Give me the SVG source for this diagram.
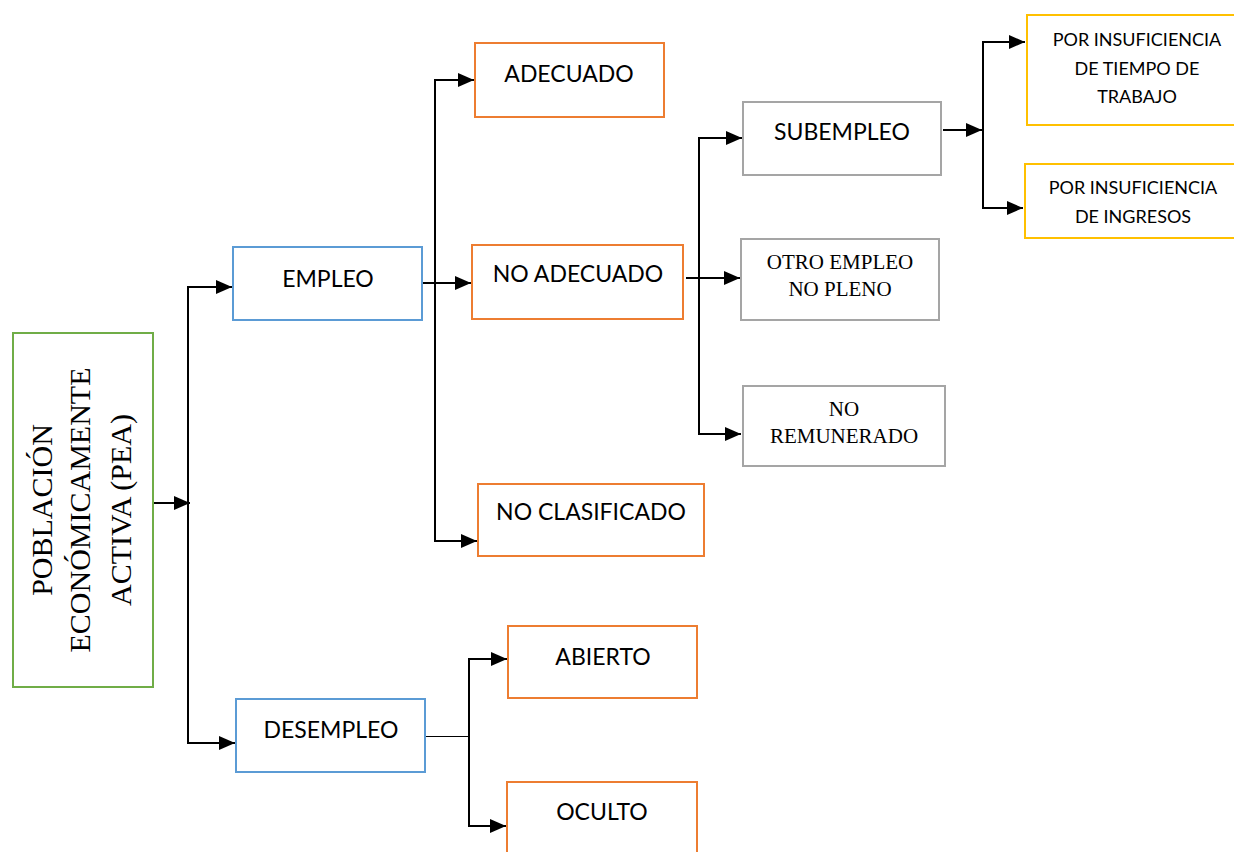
<svg xmlns="http://www.w3.org/2000/svg" width="1234" height="852" viewBox="0 0 1234 852">
<style>
.box{fill:#fff;stroke-width:2}
.g{stroke:#70AD47}.b{stroke:#5B9BD5}.o{stroke:#ED7D31}.gr{stroke:#A5A5A5}.y{stroke:#FFC000}
.c{font-family:Lato,"Open Sans","Liberation Sans",sans-serif;fill:#000;text-anchor:middle}
.t{font-family:"Liberation Serif","Times New Roman",serif;fill:#000;text-anchor:middle}
.ln{fill:none;stroke:#000;stroke-width:2}
</style>
<defs>
<marker id="ah" markerUnits="userSpaceOnUse" markerWidth="16" markerHeight="14" refX="16" refY="7" orient="auto">
<path d="M0,0 L16,7 L0,14 z" fill="#000"/>
</marker>
</defs>
<g id="connectors">
<line class="ln" x1="153" y1="503" x2="190" y2="503" marker-end="url(#ah)"/>
<line class="ln" x1="188" y1="287" x2="188" y2="743"/>
<line class="ln" x1="187" y1="287" x2="232" y2="287" marker-end="url(#ah)"/>
<line class="ln" x1="187" y1="743" x2="235" y2="743" marker-end="url(#ah)"/>
<line class="ln" x1="420" y1="283" x2="471" y2="283" marker-end="url(#ah)"/>
<line class="ln" x1="435" y1="80" x2="435" y2="541"/>
<line class="ln" x1="434" y1="80" x2="474" y2="80" marker-end="url(#ah)"/>
<line class="ln" x1="434" y1="541" x2="477" y2="541" marker-end="url(#ah)"/>
<line class="ln" x1="686" y1="278" x2="740" y2="278" marker-end="url(#ah)"/>
<line class="ln" x1="699" y1="138" x2="699" y2="435"/>
<line class="ln" x1="698" y1="138" x2="742" y2="138" marker-end="url(#ah)"/>
<line class="ln" x1="698" y1="434" x2="741" y2="434" marker-end="url(#ah)"/>
<line class="ln" x1="943" y1="130" x2="982" y2="130" marker-end="url(#ah)"/>
<line class="ln" x1="983" y1="42" x2="983" y2="209"/>
<line class="ln" x1="982" y1="42" x2="1025" y2="42" marker-end="url(#ah)"/>
<line class="ln" x1="982" y1="208" x2="1023" y2="208" marker-end="url(#ah)"/>
<line x1="425" y1="736.5" x2="469" y2="736.5" stroke="#000" stroke-width="1"/>
<line class="ln" x1="469" y1="659" x2="469" y2="826"/>
<line class="ln" x1="468" y1="659" x2="507" y2="659" marker-end="url(#ah)"/>
<line class="ln" x1="468" y1="826" x2="506" y2="826" marker-end="url(#ah)"/>
</g>
<g id="pea">
<rect class="box g" x="13" y="333" width="140" height="354"/>
<text class="t" font-size="30" transform="translate(52,510) rotate(-90)">POBLACIÓN</text>
<text class="t" font-size="30" transform="translate(90,510) rotate(-90)">ECONÓMICAMENTE</text>
<text class="t" font-size="30" transform="translate(131,510) rotate(-90)">ACTIVA (PEA)</text>
</g>
<g id="empleo">
<rect class="box b" x="233" y="247" width="189" height="73"/>
<text class="c" font-size="23" x="328" y="287">EMPLEO</text>
</g>
<g id="desempleo">
<rect class="box b" x="236" y="699" width="189" height="73"/>
<text class="c" font-size="23" x="331" y="738">DESEMPLEO</text>
</g>
<g id="adecuado">
<rect class="box o" x="475" y="43" width="189" height="74"/>
<text class="c" font-size="23" x="569" y="82">ADECUADO</text>
</g>
<g id="no-adecuado">
<rect class="box o" x="472" y="245" width="211" height="74"/>
<text class="c" font-size="23" x="578" y="282">NO ADECUADO</text>
</g>
<g id="no-clasificado">
<rect class="box o" x="478" y="484" width="226" height="72"/>
<text class="c" font-size="23" x="591" y="520">NO CLASIFICADO</text>
</g>
<g id="abierto">
<rect class="box o" x="508" y="626" width="189" height="72"/>
<text class="c" font-size="23" x="603" y="665">ABIERTO</text>
</g>
<g id="oculto">
<rect class="box o" x="507" y="782" width="190" height="80"/>
<text class="c" font-size="23" x="602" y="820">OCULTO</text>
</g>
<g id="subempleo">
<rect class="box gr" x="743" y="102" width="198" height="73"/>
<text class="c" font-size="23" x="842" y="140">SUBEMPLEO</text>
</g>
<g id="otro-empleo">
<rect class="box gr" x="741" y="239" width="198" height="81"/>
<text class="t" font-size="21" x="840" y="269">OTRO EMPLEO</text>
<text class="t" font-size="21" x="840" y="296">NO PLENO</text>
</g>
<g id="no-remunerado">
<rect class="box gr" x="743" y="386" width="202" height="80"/>
<text class="t" font-size="21" x="844" y="416">NO</text>
<text class="t" font-size="21" x="844" y="443">REMUNERADO</text>
</g>
<g id="tiempo">
<rect class="box y" x="1027" y="15" width="215" height="110"/>
<text class="c" font-size="18" x="1137" y="46">POR INSUFICIENCIA</text>
<text class="c" font-size="18" x="1137" y="75">DE TIEMPO DE</text>
<text class="c" font-size="18" x="1137" y="103">TRABAJO</text>
</g>
<g id="ingresos">
<rect class="box y" x="1025" y="164" width="217" height="74"/>
<text class="c" font-size="18" x="1133" y="194">POR INSUFICIENCIA</text>
<text class="c" font-size="18" x="1133" y="223">DE INGRESOS</text>
</g>
</svg>
